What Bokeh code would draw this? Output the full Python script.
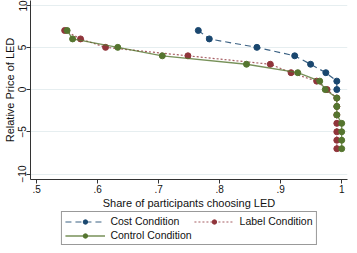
from bokeh.plotting import figure
from bokeh.models import Legend, LegendItem, FixedTicker, Range1d
from bokeh.layouts import column
from bokeh.embed import file_html
from bokeh.resources import INLINE

# Data (relative price of LED vs share choosing LED)
price_cost = [7, 6, 5, 4, 3, 2, 1, 0]
share_cost = [0.765, 0.783, 0.861, 0.923, 0.949, 0.974, 0.992, 0.992]

price_label = [7, 6, 5, 4, 3, 2, 1, 0, -1, -2, -3, -4, -5, -6, -7]
share_label = [0.546, 0.572, 0.613, 0.748, 0.883, 0.917, 0.959, 0.976,
               0.992, 0.992, 0.992, 0.992, 0.992, 0.992, 0.992]

price_control = [7, 6, 5, 4, 3, 2, 1, 0, -1, -2, -3, -4, -5, -6, -7]
share_control = [0.550, 0.559, 0.633, 0.706, 0.844, 0.928, 0.964, 0.973,
                 0.992, 0.992, 0.992, 1.0, 1.0, 1.0, 1.0]

series_names = ["Cost Condition", "Label Condition", "Control Condition"]

x_ticks = [0.5, 0.6, 0.7, 0.8, 0.9, 1.0]
x_tick_labels = [".5", ".6", ".7", ".8", ".9", "1"]
y_ticks = [-10, -5, 0, 5, 10]

NAVY = "#1a476f"
MAROON = "#90353b"
GREEN = "#55752f"
FONT = "Liberation Sans"
NAN = float("nan")

styles = {
    "cost": dict(color=NAVY, line_width=1.2, line_dash="6 4", line_alpha=0.85),
    "label": dict(color=MAROON, line_width=1.2, line_dash="2 2", line_alpha=0.8),
    "control": dict(color=GREEN, line_width=1.3, line_alpha=0.8),
}
MSIZE = 6

p = figure(width=349, height=211, output_backend="svg", toolbar_location=None,
           x_range=Range1d(0.49, 1.0095), y_range=Range1d(-10.65, 10.55),
           min_border_left=0, min_border_right=2, min_border_top=0, min_border_bottom=0)
p.outline_line_color = None
p.background_fill_color = "white"
p.border_fill_color = "white"

p.xgrid.grid_line_color = None
p.ygrid.grid_line_color = "#e6eef0"
p.ygrid.grid_line_width = 1

p.xaxis.ticker = FixedTicker(ticks=x_ticks)
p.xaxis.major_label_overrides = {t: l for t, l in zip(x_ticks, x_tick_labels)}
p.yaxis.ticker = FixedTicker(ticks=y_ticks)
p.yaxis.major_label_orientation = "vertical"
p.xaxis.axis_label = "Share of participants choosing LED"
p.yaxis.axis_label = "Relative Price of LED"

for ax in (p.xaxis, p.yaxis):
    ax.axis_line_color = "#333333"
    ax.major_tick_line_color = "#333333"
    ax.minor_tick_line_color = None
    ax.major_tick_out = 4
    ax.major_tick_in = 0
    ax.major_label_text_font = FONT
    ax.major_label_text_font_size = "10px"
    ax.major_label_text_color = "#111111"
    ax.axis_label_text_font = FONT
    ax.axis_label_text_font_size = "11px"
    ax.axis_label_text_font_style = "normal"
    ax.axis_label_text_color = "#111111"
    ax.major_label_standoff = 1
    ax.axis_label_standoff = 1
p.yaxis.major_label_standoff = 0
p.yaxis.axis_label_standoff = 0

p.line(share_cost, price_cost, **styles["cost"])
p.scatter(share_cost, price_cost, size=MSIZE, color=NAVY)
p.line(share_label, price_label, **styles["label"])
p.scatter(share_label, price_label, size=MSIZE, color=MAROON)
p.line(share_control, price_control, **styles["control"])
p.scatter(share_control, price_control, size=MSIZE, color=GREEN)

# Legend strip below the chart
lg = figure(width=349, height=34, output_backend="svg", toolbar_location=None,
            x_range=Range1d(0, 1), y_range=Range1d(0, 1),
            x_axis_location=None, y_axis_location=None,
            min_border=0)
lg.outline_line_color = None
lg.xgrid.visible = False
lg.ygrid.visible = False
lg.border_fill_color = "white"
lg.background_fill_color = "white"

items = []
for name, key, col in zip(series_names, ["cost", "label", "control"], [NAVY, MAROON, GREEN]):
    lr = lg.line([NAN], [NAN], **styles[key])
    sr = lg.scatter([NAN], [NAN], size=MSIZE, color=col)
    items.append(LegendItem(label=name, renderers=[lr, sr]))

# order so that column-major layout gives: Cost | Label / Control
legend = Legend(items=[items[0], items[2], items[1]], orientation="vertical", nrows=2)
legend.location = "center"
legend.label_text_font = FONT
legend.label_text_font_size = "10.5px"
legend.label_text_color = "#111111"
legend.label_height = 11
legend.glyph_height = 11
legend.glyph_width = 40
legend.spacing = 2
legend.padding = 3
legend.margin = 0
legend.label_standoff = 6
legend.border_line_color = "#333333"
legend.border_line_width = 1
legend.background_fill_color = "white"
lg.add_layout(legend)

layout = column(p, lg)
open("out.html", "w").write(file_html(layout, INLINE))
